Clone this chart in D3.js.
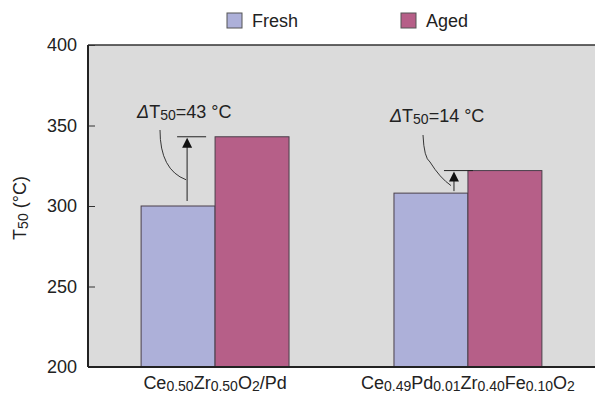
<!DOCTYPE html>
<html lang="en">
<head>
  <meta charset="UTF-8">
  <title>T50 Fresh vs Aged</title>
  <script src="https://d3js.org/d3.v7.min.js"></script>
  <style>
    body { margin: 0; background: #fff; }
    svg { display: block; font-family: "Liberation Sans", Arial, sans-serif; }
  </style>
</head>
<body>
  <div id="viz"></div>
  <script>
    // data
    const catalysts = [
      [["Ce", 0], ["0.50", 1], ["Zr", 0], ["0.50", 1], ["O", 0], ["2", 1], ["/Pd", 0]],
      [["Ce", 0], ["0.49", 1], ["Pd", 0], ["0.01", 1], ["Zr", 0], ["0.40", 1], ["Fe", 0], ["0.10", 1], ["O", 0], ["2", 1]]
    ];
    const seriesNames = ["Fresh", "Aged"];
    const freshT50 = [300, 308];
    const agedT50 = [343, 322];
    const deltaLabels = ["43", "14"];
    const yTicks = [200, 250, 300, 350, 400];
    const colors = ["#adb0d9", "#b65f88"];

    const W = 595, H = 396;
    const margin = { top: 45, right: 0, bottom: 29, left: 88 };
    const svg = d3.select("#viz").append("svg").attr("width", W).attr("height", H);

    const groups = d3.range(catalysts.length);
    const x0 = d3.scaleBand().domain(groups)
      .range([margin.left, W - margin.right])
      .paddingInner(0.415).paddingOuter(0.21);
    const x1 = d3.scaleBand().domain(seriesNames).range([0, x0.bandwidth()]);
    const y = d3.scaleLinear().domain([200, 400]).range([H - margin.bottom, margin.top]);

    // plot background
    svg.append("rect")
      .attr("x", margin.left).attr("y", margin.top)
      .attr("width", W - margin.left - margin.right)
      .attr("height", H - margin.top - margin.bottom)
      .attr("fill", "#dbdbdb");

    // bars
    const rows = groups.map(i => [
      { g: i, s: "Fresh", v: freshT50[i] },
      { g: i, s: "Aged", v: agedT50[i] }
    ]).flat();
    svg.selectAll("rect.bar").data(rows).enter().append("rect")
      .attr("class", "bar")
      .attr("x", d => x0(d.g) + x1(d.s))
      .attr("y", d => y(d.v))
      .attr("width", x1.bandwidth())
      .attr("height", d => y(200) - y(d.v))
      .attr("fill", d => colors[seriesNames.indexOf(d.s)])
      .attr("stroke", "#4a3f4a")
      .attr("stroke-width", 1);

    // top border
    svg.append("line")
      .attr("x1", margin.left).attr("x2", W)
      .attr("y1", margin.top).attr("y2", margin.top)
      .attr("stroke", "#333").attr("stroke-width", 1.5);

    // y axis (ticks point inward)
    const yAxis = svg.append("g")
      .attr("transform", `translate(${margin.left},0)`)
      .call(d3.axisRight(y).tickValues(yTicks).tickSize(7).tickFormat(""));
    yAxis.select(".domain").remove();
    yAxis.selectAll("line").attr("stroke", "#333");
    svg.append("line")
      .attr("x1", margin.left).attr("x2", margin.left)
      .attr("y1", margin.top).attr("y2", y(200))
      .attr("stroke", "#222").attr("stroke-width", 2);
    svg.selectAll("text.ytick").data(yTicks).enter().append("text")
      .attr("class", "ytick")
      .attr("x", 77).attr("y", d => y(d) + 6)
      .attr("text-anchor", "end")
      .attr("font-size", "18px").attr("fill", "#222")
      .text(d => d);

    // x axis line
    svg.append("line")
      .attr("x1", margin.left).attr("x2", W)
      .attr("y1", y(200)).attr("y2", y(200))
      .attr("stroke", "#222").attr("stroke-width", 2);

    // category labels with subscripts
    catalysts.forEach((parts, i) => {
      const t = svg.append("text")
        .attr("x", x0(i) + x0.bandwidth() / 2)
        .attr("y", 389)
        .attr("text-anchor", "middle")
        .attr("font-size", "18px").attr("fill", "#222");
      let sub = false;
      parts.forEach(([s, isSub]) => {
        const ts = t.append("tspan").text(s);
        if (isSub) ts.attr("font-size", "14px");
        if (isSub && !sub) ts.attr("dy", 2);
        if (!isSub && sub) ts.attr("dy", -2);
        sub = !!isSub;
      });
    });

    // y axis title
    const yt = svg.append("text")
      .attr("transform", `translate(26,${(margin.top + y(200)) / 2 + 2}) rotate(-90)`)
      .attr("text-anchor", "middle")
      .attr("font-size", "18px").attr("fill", "#222");
    yt.append("tspan").text("T");
    yt.append("tspan").attr("font-size", "14px").attr("dy", 2).text("50");
    yt.append("tspan").attr("dy", -2).text(" (°C)");

    // legend
    const legendX = [227, 401];
    seriesNames.forEach((name, i) => {
      svg.append("rect")
        .attr("x", legendX[i]).attr("y", 13)
        .attr("width", 15).attr("height", 15)
        .attr("fill", colors[i]).attr("stroke", "#555").attr("stroke-width", 1);
      svg.append("text")
        .attr("x", legendX[i] + 25).attr("y", 27)
        .attr("font-size", "18px").attr("fill", "#222")
        .text(name);
    });

    // delta T50 annotations
    const arrowOff = [46, 60];      // arrow x offset inside fresh bar
    const labelBase = [118, 122];   // label baseline
    const gapBottom = [5, 2];
    const leader = [
      (ax, yA) => `M160,130 Q160,170 ${ax - 1},${yA + 43}`,
      (ax, yA) => `M423,135 Q424,158 430,162 Q440,178 ${ax - 3},${yA + 15}`
    ];
    groups.forEach(i => {
      const fx = x0(i) + x1("Fresh");
      const ax = fx + arrowOff[i];
      const yA = y(agedT50[i]), yF = y(freshT50[i]);
      const g = svg.append("g").attr("stroke", "#222").attr("fill", "none");
      g.append("line").attr("x1", ax - 10).attr("x2", ax + 19)
        .attr("y1", yA).attr("y2", yA).attr("stroke-width", 1);
      g.append("line").attr("x1", ax).attr("x2", ax)
        .attr("y1", yA + 8).attr("y2", yF - gapBottom[i]).attr("stroke-width", 1);
      g.append("path")
        .attr("d", `M${ax},${yA + 1} L${ax - 5},${yA + 11} L${ax + 5},${yA + 11} Z`)
        .attr("fill", "#111").attr("stroke", "none");
      g.append("path").attr("d", leader[i](ax, yA)).attr("stroke-width", 0.9);

      const t = svg.append("text")
        .attr("x", fx - 4).attr("y", labelBase[i])
        .attr("font-size", "18px").attr("fill", "#222");
      t.append("tspan").attr("font-style", "italic").text("Δ");
      t.append("tspan").text("T");
      t.append("tspan").attr("font-size", "14px").attr("dy", 2).text("50");
      t.append("tspan").attr("dy", -2).text(`=${deltaLabels[i]} °C`);
    });
  </script>
</body>
</html>
